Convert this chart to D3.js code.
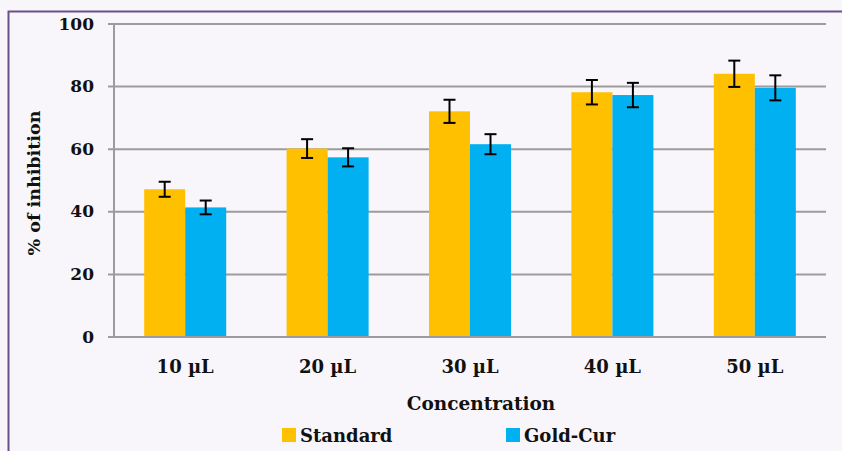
<!DOCTYPE html>
<html><head><meta charset="utf-8">
<script src="https://cdn.jsdelivr.net/npm/d3@7"></script>
<style>
html,body{margin:0;padding:0;background:#f8f6fa;}
svg{display:block;}
text{font-family:"DejaVu Serif","Liberation Serif",serif;font-weight:bold;fill:#111;}
</style></head>
<body>
<svg id="c" width="842" height="451"></svg>
<script>
const categories = ["10 µL","20 µL","30 µL","40 µL","50 µL"];
const seriesNames = ["Standard","Gold-Cur"];
const standardValues = [47.2, 60.2, 72.1, 78.2, 84.1];
const standardErrors = [2.4, 3.0, 3.7, 3.9, 4.2];
const goldCurValues = [41.4, 57.4, 61.6, 77.3, 79.6];
const goldCurErrors = [2.2, 2.9, 3.2, 3.9, 4.0];
const yTicks = [0, 20, 40, 60, 80, 100];
const colors = ["#FFC000", "#00B0F0"];

const svg = d3.select("#c");
svg.append("rect").attr("x",0).attr("y",0).attr("width",842).attr("height",451).attr("fill","#f8f6fa");
// frame
svg.append("path").attr("d","M8.5,460 V11.5 H850").attr("fill","none").attr("stroke","#6a5088").attr("stroke-width",2);

const pL=114, pR=826, pT=24, pB=337;
const x = d3.scaleBand().domain(categories).range([pL,pR]).paddingInner(0.424).paddingOuter(0.212);
const x1 = d3.scaleBand().domain(seriesNames).range([0,x.bandwidth()]);
const y = d3.scaleLinear().domain([0,100]).range([pB,pT]);

// gridlines
svg.append("g").selectAll("line").data(yTicks).join("line")
  .attr("x1",108).attr("x2",pR).attr("y1",d=>y(d)).attr("y2",d=>y(d))
  .attr("stroke","#9c9c9c").attr("stroke-width",2);
// y axis line
svg.append("line").attr("x1",pL).attr("x2",pL).attr("y1",pT).attr("y2",pB).attr("stroke","#9c9c9c").attr("stroke-width",2);

const yAxis = d3.axisLeft(y).tickValues(yTicks).tickSize(0).tickPadding(0).tickFormat(d3.format("d"));
const ga = svg.append("g").attr("transform",`translate(94,0)`).call(yAxis);
ga.select(".domain").remove();
ga.selectAll("text").attr("font-size",17).attr("font-family",null).attr("dy","0.3em");

const data = categories.map((c,i)=>({c, vals:[
  {s:seriesNames[0], v:standardValues[i], e:standardErrors[i], col:colors[0]},
  {s:seriesNames[1], v:goldCurValues[i], e:goldCurErrors[i], col:colors[1]}]}));

const g = svg.append("g").selectAll("g").data(data).join("g").attr("transform",d=>`translate(${x(d.c)},0)`);
g.selectAll("rect").data(d=>d.vals).join("rect")
  .attr("x",d=>x1(d.s)).attr("width",x1.bandwidth()).attr("y",d=>y(d.v)).attr("height",d=>pB-y(d.v)).attr("fill",d=>d.col);
const eb = g.selectAll("g.eb").data(d=>d.vals).join("g").attr("class","eb")
  .attr("transform",d=>`translate(${x1(d.s)+x1.bandwidth()/2},0)`);
eb.append("line").attr("y1",d=>y(d.v+d.e)).attr("y2",d=>y(d.v-d.e)).attr("stroke","#000").attr("stroke-width",2);
eb.append("line").attr("x1",-6).attr("x2",6).attr("y1",d=>y(d.v+d.e)).attr("y2",d=>y(d.v+d.e)).attr("stroke","#000").attr("stroke-width",2);
eb.append("line").attr("x1",-6).attr("x2",6).attr("y1",d=>y(d.v-d.e)).attr("y2",d=>y(d.v-d.e)).attr("stroke","#000").attr("stroke-width",2);

// baseline
svg.append("line").attr("x1",108).attr("x2",pR).attr("y1",pB).attr("y2",pB).attr("stroke","#9c9c9c").attr("stroke-width",2);

// x labels
const xAxis = d3.axisBottom(x).tickSize(0).tickPadding(0);
const gx = svg.append("g").attr("transform",`translate(0,373)`).call(xAxis);
gx.select(".domain").remove();
gx.selectAll("text").attr("font-size",18).attr("font-family",null).attr("dy",0);

svg.append("text").attr("x",481).attr("y",410).attr("text-anchor","middle").attr("font-size",18.5).text("Concentration");
svg.append("text").attr("transform","translate(40,183) rotate(-90)").attr("text-anchor","middle").attr("font-size",17.5).text("% of inhibition");

// legend
const legX = [282, 506];
const lg = svg.append("g").selectAll("g").data(seriesNames).join("g").attr("transform",(d,i)=>`translate(${legX[i]},428)`);
lg.append("rect").attr("width",14).attr("height",14).attr("fill",(d,i)=>colors[i]);
lg.append("text").attr("x",18).attr("y",14).attr("font-size",18).text(d=>d);
</script>
</body></html>
